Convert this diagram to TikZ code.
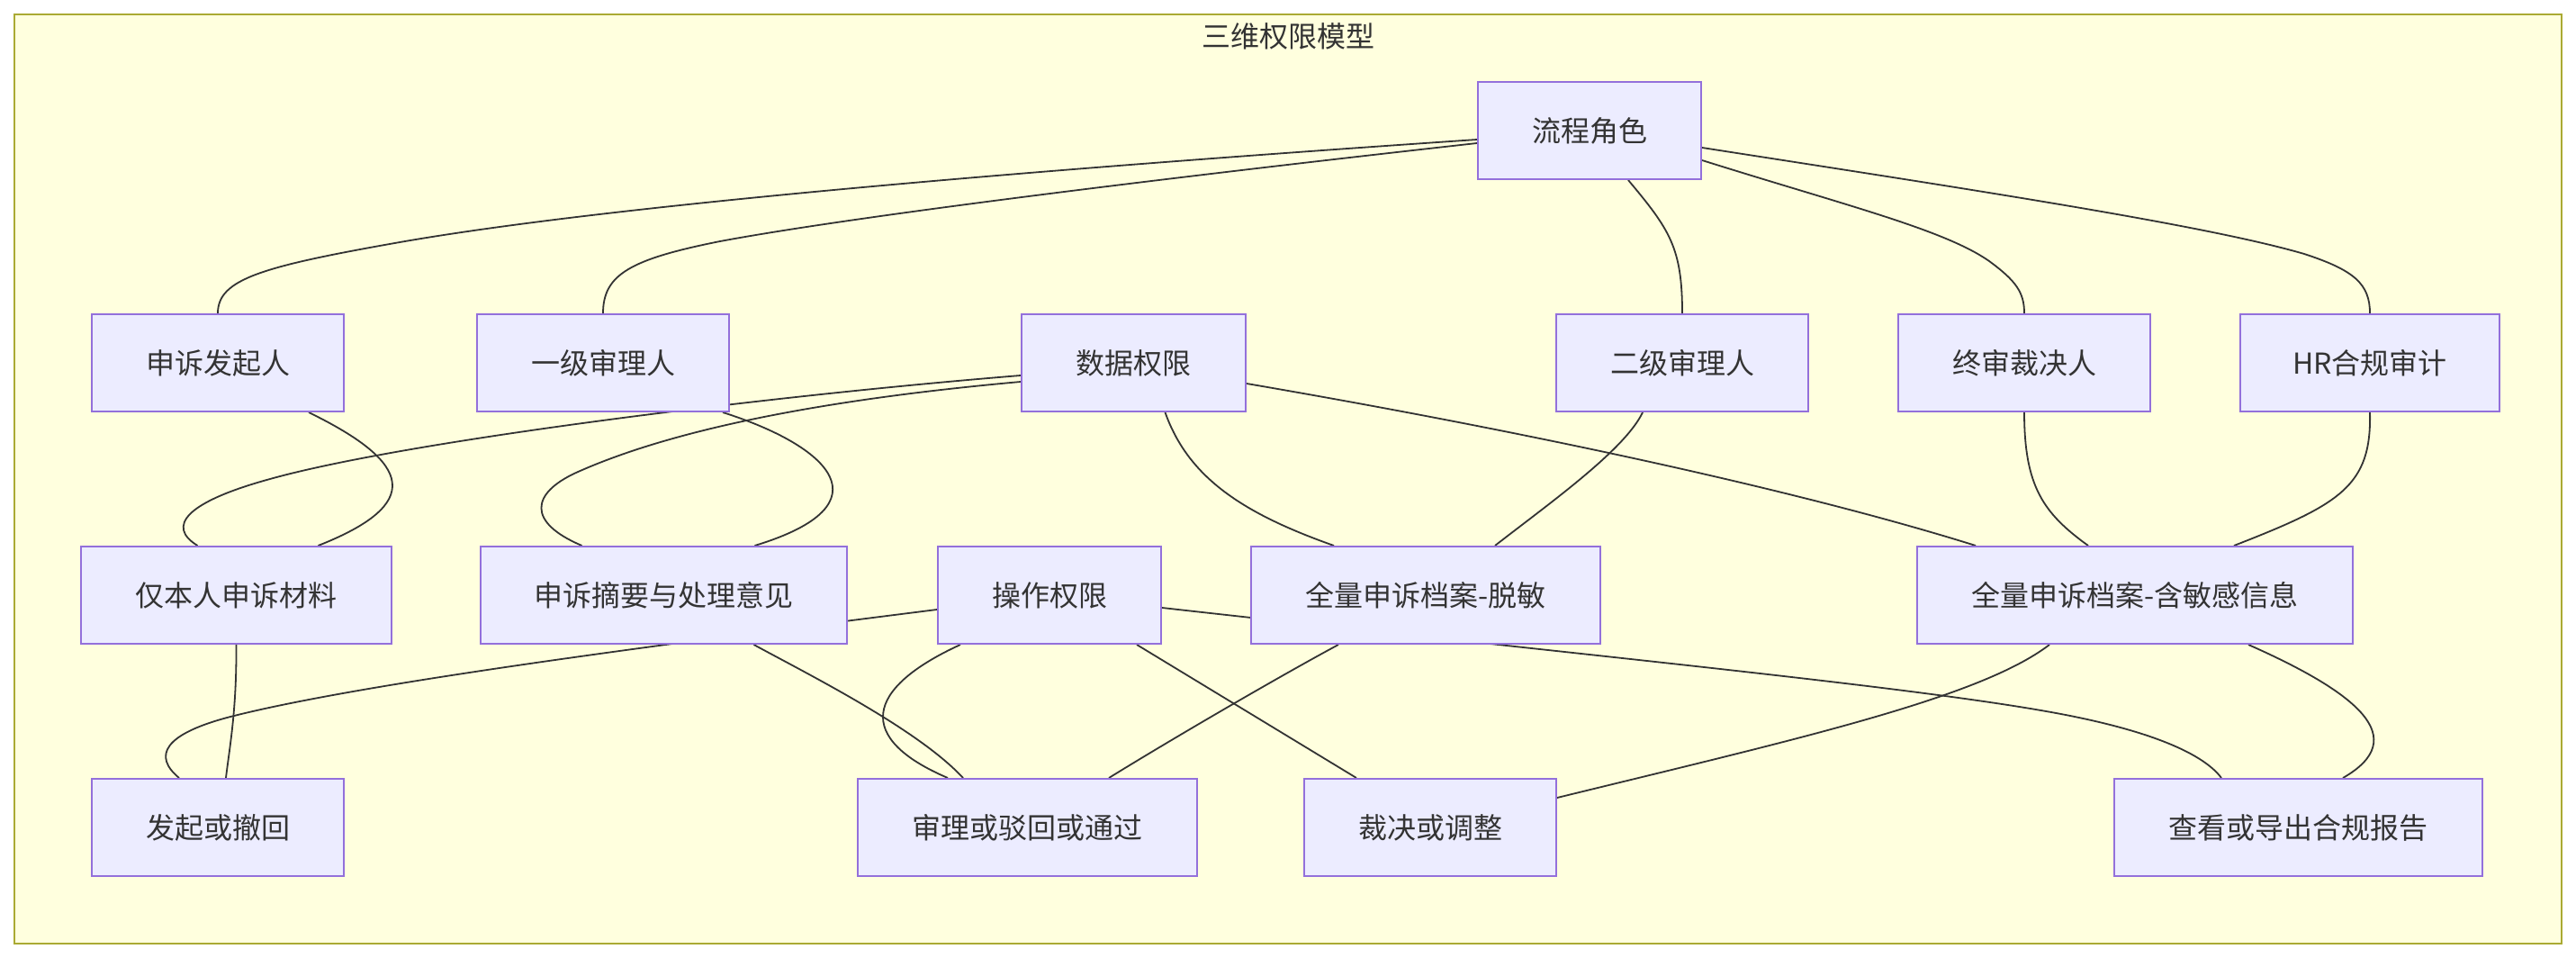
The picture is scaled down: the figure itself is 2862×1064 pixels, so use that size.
\documentclass[tikz,border=0pt]{standalone}
\usepackage{fontspec}
\setmainfont{Noto Sans CJK SC}
\usetikzlibrary{calc}
\definecolor{clfill}{HTML}{FFFFDE}
\definecolor{clborder}{HTML}{AAAA33}
\definecolor{nfill}{HTML}{ECECFF}
\definecolor{nborder}{HTML}{9370DB}
\definecolor{ink}{HTML}{333333}
\pgfdeclarelayer{background}
\pgfdeclarelayer{edges}
\pgfsetlayers{background,edges,main}
\tikzset{
  box/.style={draw=nborder, fill=nfill, line width=1pt, minimum height=54pt,
    inner sep=0pt, text=ink, font=\fontsize{16pt}{19pt}\selectfont},
  edge/.style={draw=ink, line width=0.9pt},
  frame/.style={draw=clborder, fill=clfill, line width=1pt}
}
\begin{document}
\begin{tikzpicture}[x=0.5pt,y=-0.5pt]
\useasboundingbox (0,0) rectangle (2862,1064);
% title
\node[text=ink, font=\fontsize{16pt}{19pt}\selectfont, inner sep=0pt] (title) at (1431,40) {三维权限模型};
% row 1
\node[box, minimum width=124pt] (lc) at (1766,145) {流程角色};
% row 2
\node[box, minimum width=140pt] (n1) at (242,403) {申诉发起人};
\node[box, minimum width=140pt] (n2) at (670,403) {一级审理人};
\node[box, minimum width=124.5pt] (dq) at (1259.5,403) {数据权限};
\node[box, minimum width=140pt] (n4) at (1869,403) {二级审理人};
\node[box, minimum width=140pt] (n5) at (2249,403) {终审裁决人};
\node[box, minimum width=144pt] (n6) at (2633,403) {HR合规审计};
% row 3
\node[box, minimum width=172.5pt] (m1) at (262.5,661) {仅本人申诉材料};
\node[box, minimum width=203.5pt] (m2) at (737.5,661) {申诉摘要与处理意见};
\node[box, minimum width=124pt] (m3) at (1166,661) {操作权限};
\node[box, minimum width=194pt] (m4) at (1584,661) {全量申诉档案-脱敏};
\node[box, minimum width=242pt] (m5) at (2372,661) {全量申诉档案-含敏感信息};
% row 4
\node[box, minimum width=140pt] (b1) at (242,919) {发起或撤回};
\node[box, minimum width=188.5pt] (b2) at (1141.5,919) {审理或驳回或通过};
\node[box, minimum width=140pt] (b3) at (1589,919) {裁决或调整};
\node[box, minimum width=204.5pt] (b4) at (2553.5,919) {查看或导出合规报告};

\begin{pgfonlayer}{background}
\draw[frame] (16,16) rectangle (2846,1048);
\end{pgfonlayer}

\begin{pgfonlayer}{edges}
% 流程角色
\draw[edge] ($(lc.west)+(0,10)$) .. controls (1200,185) and (700,225) .. (450,268)
  .. controls (290,296) and (242,310) .. (n1.north);
\draw[edge] ($(lc.west)+(0,14)$) .. controls (1300,197) and (950,240) .. (800,268)
  .. controls (700,288) and (670,305) .. (n2.north);
\draw[edge] ($(lc.south)+(43,0)$) .. controls (1855,255) and (1869,275) .. (n4.north);
\draw[edge] ($(lc.east)+(0,33)$) .. controls (2050,228) and (2160,255) .. (2210,290)
  .. controls (2240,312) and (2249,325) .. (n5.north);
\draw[edge] ($(lc.east)+(0,19)$) .. controls (2200,212) and (2450,250) .. (2560,282)
  .. controls (2615,300) and (2633,315) .. (n6.north);
% 数据权限
\draw[edge] ($(dq.west)+(0,14)$) .. controls (850,440) and (450,490) .. (300,532)
  .. controls (205,558) and (185,585) .. ($(m1.north)+(-43,0)$);
\draw[edge] ($(dq.west)+(0,21)$) .. controls (900,445) and (740,480) .. (640,525)
  .. controls (590,548) and (585,580) .. ($(m2.north)+(-91,0)$);
\draw[edge] ($(dq.south)+(35,0)$) .. controls (1320,530) and (1380,570) .. ($(m4.north)+(-102,0)$);
\draw[edge] ($(dq.east)+(0,23)$) .. controls (1700,480) and (2000,545) .. ($(m5.north)+(-177,0)$);
% roles to data
\draw[edge] ($(n1.south)+(101,0)$) .. controls (460,515) and (470,560) .. ($(m1.north)+(91,0)$);
\draw[edge] ($(n2.south)+(133,0)$) .. controls (920,495) and (990,560) .. ($(m2.north)+(101,0)$);
\draw[edge] ($(n4.south)+(-44,0)$) .. controls (1805,500) and (1720,560) .. ($(m4.north)+(77,0)$);
\draw[edge] (n5.south) .. controls (2249,540) and (2270,570) .. ($(m5.north)+(-52,0)$);
\draw[edge] (n6.south) .. controls (2635,540) and (2600,560) .. ($(m5.north)+(110,0)$);
% 操作权限
\draw[edge] ($(m3.west)+(0,16)$) .. controls (700,720) and (400,760) .. (260,795)
  .. controls (180,815) and (170,840) .. ($(b1.north)+(-43,0)$);
\draw[edge] ($(m3.south)+(-99,0)$) .. controls (960,765) and (950,820) .. ($(b2.north)+(-88.5,0)$);
\draw[edge] ($(m3.south)+(97,0)$) -- ($(b3.north)+(-82,0)$);
\draw[edge] ($(m3.east)+(0,14)$) .. controls (1800,732) and (2150,765) .. (2300,795)
  .. controls (2400,815) and (2450,840) .. ($(b4.north)+(-85.5,0)$);
% data to operations
\draw[edge] (m1.south) .. controls (263,790) and (255,830) .. ($(b1.north)+(9,0)$);
\draw[edge] ($(m2.south)+(100,0)$) .. controls (900,750) and (1020,810) .. ($(b2.north)+(-71.5,0)$);
\draw[edge] ($(m4.south)+(-97,0)$) .. controls (1420,752) and (1300,822) .. ($(b2.north)+(90.5,0)$);
\draw[edge] ($(m5.south)+(-95,0)$) .. controls (2200,775) and (2000,820) .. ($(b3.east)+(0,-33)$);
\draw[edge] ($(m5.south)+(126,0)$) .. controls (2620,770) and (2680,820) .. ($(b4.north)+(49.5,0)$);
\end{pgfonlayer}
\end{tikzpicture}
\end{document}
